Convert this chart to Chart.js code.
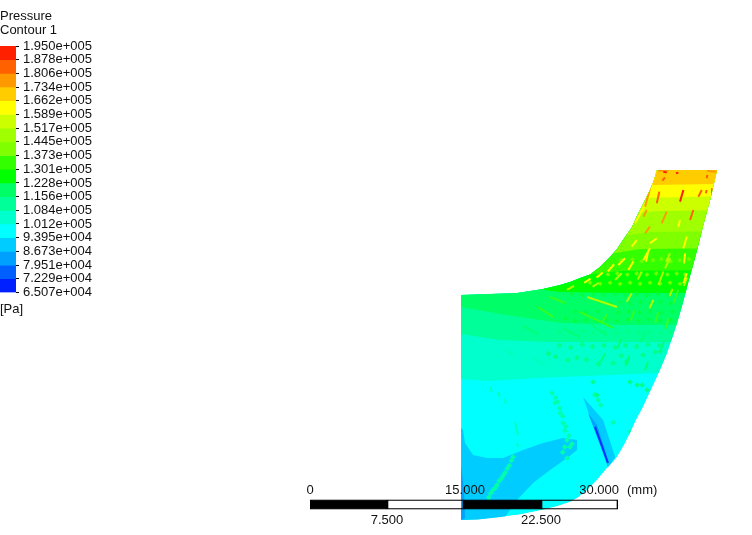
<!DOCTYPE html>
<html>
<head>
<meta charset="utf-8">
<script src="https://cdn.jsdelivr.net/npm/chart.js@4/dist/chart.umd.min.js"></script>
<style>
	html, body { margin: 0; background: #fff; overflow: hidden; }
	canvas { position: absolute; }
	#field { left: 0; top: 0; }
	#ruler { left: 0; top: 0; }
	#colorbar { left: -3px; top: 0; }
</style>
</head>
<body>
<canvas id="field" width="752" height="535"></canvas>
<canvas id="ruler" width="752" height="535"></canvas>
<canvas id="colorbar" width="113" height="326"></canvas>
<script>
// legend
const levels = [195000, 187800, 180600, 173400, 166200, 158900, 151700, 144500, 137300, 130100, 122800, 115600, 108400, 101200, 93950, 86730, 79510, 72290, 65070]
const levelLabels = ['1.950e+005', '1.878e+005', '1.806e+005', '1.734e+005', '1.662e+005', '1.589e+005', '1.517e+005', '1.445e+005', '1.373e+005', '1.301e+005', '1.228e+005', '1.156e+005', '1.084e+005', '1.012e+005', '9.395e+004', '8.673e+004', '7.951e+004', '7.229e+004', '6.507e+004']
const bandColors = ['#ff2000', '#ff6000', '#ff9900', '#ffcc00', '#ffff00', '#ccff00', '#a0ff00', '#80ff00', '#33ff00', '#00ff00', '#00ff66', '#00ff99', '#00ffcc', '#00ffff', '#00ccff', '#00a0ff', '#0060ff', '#0020ff']

// geometry, mm from the bottom of the inlet edge
const passage = [[0, 0], [1.66, 0.05], [3.8, 0.29], [5.74, 0.54], [7.89, 0.97], [9.25, 1.31], [10.61, 1.75], [11.39, 2.19], [12.07, 2.73], [12.66, 3.31], [13.24, 3.89], [13.73, 4.48], [14.22, 5.06], [14.7, 5.55], [15.19, 6.13], [15.87, 7.3], [16.46, 8.47], [17.04, 9.74], [17.72, 11], [18.4, 12.46], [19.08, 13.92], [19.57, 15.09], [20.06, 16.26], [20.55, 17.72], [21.03, 19.18], [21.62, 21.23], [22.1, 23.08], [22.59, 24.83], [22.98, 26.29], [23.56, 28.63], [24.25, 31.16], [24.93, 34.08], [19.08, 34.08], [18.79, 33.11], [18.4, 32.13], [17.92, 31.16], [17.43, 30.18], [17.04, 29.41], [16.65, 28.53], [15.77, 27.26], [15.19, 26.39], [14.51, 25.61], [13.53, 24.64], [12.56, 23.91], [11.59, 23.56], [10.61, 23.17], [9.64, 22.88], [7.98, 22.49], [6.72, 22.3], [5.45, 22.1], [2.82, 22], [0, 21.91]]

// contour lines, everything above a line takes its colour
const contour13 = [[0, 13.73], [2.63, 13.53], [7.5, 13.83], [12.07, 14.02], [19.38, 14.31], [26, 14.41]]
const contour12 = [[0, 18.11], [3.8, 17.53], [8.67, 17.33], [13.53, 17.33], [26, 17.33]]
const contour11 = [[0, 20.74], [3.8, 20.06], [9.64, 19.18], [15.48, 18.99], [26, 18.99]]
const contour10 = [[6.72, 22.59], [9.64, 22.2], [15.48, 22.1], [26, 22.1]]
const contour9 = [[12.07, 23.86], [15.48, 24.25], [26, 24.34]]
const contour8 = [[14.51, 25.9], [17.43, 26.39], [26, 26.48]]
const contour7 = [[15.48, 27.65], [18.4, 28.04], [26, 28.14]]
const contour6 = [[16.46, 29.89], [19.38, 30.09], [26, 30.18]]
const contour5 = [[17.43, 31.35], [26, 31.55]]
const contour4 = [[18.4, 32.62], [26, 32.72]]

// low pressure pockets
const inletBlob = [[0, 8.96], [0.19, 8.76], [0.39, 7.5], [1.17, 6.33], [2.53, 6.04], [4.09, 6.04], [6.04, 6.82], [7.98, 7.5], [9.93, 7.98], [11.3, 7.79], [11.3, 6.82], [10.32, 6.04], [8.67, 4.87], [7.01, 3.6], [5.45, 1.95], [4.28, 0.29], [3.8, -0.19], [0, -0.19]]
const inletStrip = [[0, 5.36], [0.29, 2.92], [0.39, 0.19], [0, 0]]
const bladeWake = [[11.88, 11.98], [13.83, 9.74], [15, 6.13], [14.31, 5.06], [13.73, 6.82], [12.76, 9.45]]
const bladeWakeInner = [[12.37, 10.42], [13.24, 9.25], [14.02, 6.82], [14.31, 5.16], [13.83, 6.52]]
const bladeCore = [[13.05, 9.06, 14.31, 5.55]]

// streaks on the blade surfaces [x0, y0, x1, y1]
const redStreaks = [[21.65, 32.13, 21.32, 31], [19.7, 33.91, 20.03, 33.82], [20.93, 33.76, 21.16, 33.82]]
const orangeStreaks = [[19.31, 31.97, 19.06, 30.84], [23.44, 32.13, 23.11, 31.48], [23.92, 32.13, 23.83, 31.81], [24.51, 32.3, 24.44, 32.06], [22.62, 30.18, 22.3, 29.21], [23.98, 33.59, 23.92, 33.27], [19.86, 33.37, 19.6, 33.04]]
const amberStreaks = [[18.57, 32.94, 17.92, 30.51], [20.03, 30.02, 19.54, 28.89], [18.08, 30.18, 17.75, 29.53], [23.92, 34.01, 24.9, 33.9], [19.21, 34.01, 20.19, 34.01], [18.4, 28.56, 17.92, 27.92]]
const yellowStreaks = [[21.32, 29.21, 21.16, 28.56], [17.92, 30.67, 16.94, 28.89], [17.11, 27.26, 16.62, 26.61], [21.98, 27.59, 21.65, 26.46], [19.06, 27.43, 18.4, 26.94], [18.4, 26.46, 17.75, 25.32], [15.97, 25.48, 15.32, 24.83], [21.98, 24.02, 21.65, 23.05], [16.78, 25.16, 16.29, 24.34], [18.24, 26.29, 18.01, 25.15], [21.81, 25.97, 21.71, 24.99], [14.9, 24.9, 14.3, 24.2], [13.8, 24.1, 13.2, 23.6], [12.6, 23.5, 12, 23.1]]
const limeStreaks = [[20.35, 25.48, 19.86, 24.51], [19.7, 24.18, 19.21, 22.88], [20.35, 25.97, 19.96, 25.15], [15.65, 24.02, 15, 23.37], [16.62, 22.07, 16.13, 21.26], [18.72, 21.42, 18.34, 20.61], [12.27, 21.71, 15.19, 20.74], [17.6, 24.2, 17.2, 23.4], [13.4, 23.1, 12.8, 22.7], [22, 23.6, 21.7, 22.8], [11, 22.8, 10.3, 22.4], [20.6, 22.5, 20.3, 21.8]]
const greenStreaks = [[21.16, 22.4, 20.68, 21.1], [8.67, 21.71, 10.13, 21.13], [11.59, 20.25, 14.8, 18.7], [7.5, 20.74, 8.96, 19.77], [19.2, 20.2, 18.9, 19.2], [16.9, 20.4, 16.5, 19.4], [20.2, 19.6, 19.9, 18.6], [14.2, 20, 13.7, 19.2]]
const mintStreaks = [[10, 18.6, 11.6, 17.8], [12.7, 19, 14.2, 18], [6, 18.9, 7.5, 18.1], [15.6, 17.6, 15.2, 16.7], [17.9, 18.4, 17.5, 17.3], [19.8, 17.5, 19.4, 16.4], [16.4, 16, 16, 15], [14, 16.2, 13.6, 15.4], [18.2, 15.4, 17.9, 14.6]]
const paleStreaks = [[2.82, 12.95, 3.02, 12.46], [3.6, 12.46, 3.8, 11.98], [4.19, 11.78, 4.38, 11.3], [5.26, 9.54, 5.55, 8.28], [5.45, 7.5, 5.55, 7.11], [4.2, 16.6, 5.2, 16], [7, 15.8, 8.2, 15]]

// small specks
const limeSpecks = [[15.6, 25.3], [16.7, 25.4], [17.6, 25.2], [18.7, 25.3], [19.5, 25.4], [20.4, 25.2], [21.3, 25.3], [22.2, 25.4], [14.3, 23.9], [15.2, 24], [16.2, 23.9], [17.1, 24], [18.1, 23.9], [19, 24], [20.1, 23.9], [21, 24], [21.8, 23.9], [12.56, 23.1], [13.53, 23], [14.51, 23.1], [15.48, 23], [16.46, 23.1], [17.43, 23], [18.4, 23.1], [19.38, 23], [20.35, 23.1], [21.32, 23]]
const greenSpecks = [[10.8, 22], [11.8, 21.9], [12.9, 22], [13.9, 21.9], [15, 22], [16, 21.9], [17.1, 22], [18.1, 21.9], [19.2, 22], [20.2, 21.9], [21.1, 22], [13.5, 21.2], [14.5, 21.1], [15.5, 21.2], [16.4, 21.1], [17.5, 21.2], [18.5, 21.1], [19.4, 21.2], [20.4, 21.1], [11.1, 20.3], [12.1, 20.2], [13.3, 20.3], [15.3, 20.2], [16.3, 20.3], [17.4, 20.2], [18.4, 20.3], [19.5, 20.2], [20.6, 20.3], [10.2, 19.6], [11.1, 19.4], [12.2, 19.5], [13.2, 19.4], [14.2, 19.5], [15.2, 19.4], [16.2, 19.5], [17.3, 19.4], [18.3, 19.5], [19.4, 19.4], [20.4, 19.5]]
const mintSpecks = [[9.6, 18.3], [10.7, 18.2], [11.8, 18.4], [12.9, 18.2], [14, 18.3], [15.1, 18.2], [16.2, 18.4], [17.3, 18.2], [18.4, 18.3], [19.5, 18.2], [20.4, 18.3], [9.6, 17], [10.7, 16.8], [11.8, 17.1], [12.8, 16.9], [13.9, 17], [15, 16.8], [16, 17], [17.1, 16.9], [18.2, 17.1], [19.3, 17], [10.42, 15.58], [11.3, 15.8], [14.8, 15.29], [17.72, 16.07], [18.89, 16.36], [19.4, 16.4], [12.2, 15.6], [13.4, 15.2], [15.6, 16], [16.1, 15.4], [9.2, 15.9], [8.5, 16.2], [12.85, 13.44], [13.24, 12.17], [16.46, 13.44], [17.14, 13.14], [18.11, 12.66], [17.62, 13.14]]
const wakeSpecks = [[8.86, 12.37], [9.15, 11.39], [9.64, 10.42], [9.93, 9.45], [10.32, 7.79], [10.61, 7.11], [10.32, 6.04], [9.9, 6.6], [9.2, 11.9], [9.6, 10.9], [10.1, 8.7], [9.4, 11.5], [9.9, 10.1], [10.2, 9.1], [10.5, 8.2], [10.8, 7.4], [10.1, 7.1], [3.12, 2.92], [3.5, 3.4], [3.9, 4], [4.28, 4.6], [4.7, 5.3], [5.06, 6.13], [2.7, 2.2], [3.3, 3.1], [3.7, 3.8], [4.1, 4.3], [4.5, 5], [4.9, 5.8], [2.9, 2.6], [13.34, 11.68], [13, 12.2], [13.6, 11.2], [14.8, 9.5], [16.46, 8.6]]

// scale bar
const rulerSegments = [7.5, 7.5, 7.5, 7.5]
const rulerFills = ['#000000', 'transparent', '#000000', 'transparent']
const rulerTop = [{ value: 0, text: '0', align: 'center', dx: 0 }, { value: 15, text: '15.000', align: 'center', dx: 1 }, { value: 30, text: '30.000', align: 'right', dx: 1 }]
const rulerBottom = [{ value: 7.5, text: '7.500' }, { value: 22.5, text: '22.500' }]

const textFont = { family: '"Liberation Sans", Arial, sans-serif', size: 13 }
Chart.defaults.font.family = textFont.family
Chart.defaults.font.size = textFont.size
Chart.defaults.color = '#111111'
Chart.defaults.animation = false
Chart.defaults.responsive = false

const toPoints = list => list.map(p => ({ x: p[0], y: p[1] }))
const toSegments = list => list.flatMap(s => [{ x: s[0], y: s[1] }, { x: s[2], y: s[3] }, { x: null, y: null }])

const area = (data, color, fill) => ({ data: toPoints(data), showLine: true, fill, backgroundColor: color, borderWidth: 0, pointRadius: 0 })
const streaks = (data, color, width) => ({ data: toSegments(data), showLine: true, fill: false, borderColor: color, borderWidth: width, pointRadius: 0, spanGaps: false })
const specks = (data, color, radius) => ({ data: toPoints(data), showLine: false, pointStyle: 'rectRot', pointRadius: radius, backgroundColor: color, borderWidth: 0 })

const layers = [
	area(passage, bandColors[13], 'shape'),
	area(contour13, bandColors[12], 'end'),
	area(contour12, bandColors[11], 'end'),
	area(contour11, bandColors[10], 'end'),
	area(contour10, bandColors[9], 'end'),
	area(contour9, bandColors[8], 'end'),
	area(contour8, bandColors[7], 'end'),
	area(contour7, bandColors[6], 'end'),
	area(contour6, bandColors[5], 'end'),
	area(contour5, bandColors[4], 'end'),
	area(contour4, bandColors[3], 'end'),
	area(inletBlob, bandColors[14], 'shape'),
	area(inletStrip, bandColors[15], 'shape'),
	area(bladeWake, bandColors[14], 'shape'),
	area(bladeWakeInner, bandColors[15], 'shape'),
	streaks(bladeCore, '#0030ff', 2),
	streaks(paleStreaks, '#00ffbb', 2),
	specks(wakeSpecks, '#00ffaa', 2.8),
	specks(mintSpecks, '#00ff88', 2.8),
	streaks(mintStreaks, '#00ff77', 2),
	specks(greenSpecks, '#00ff44', 2.6),
	specks(limeSpecks, '#70ff00', 2.4),
	streaks(greenStreaks, '#33ff22', 2),
	streaks(limeStreaks, '#b0ff00', 2),
	streaks(yellowStreaks, '#ffff00', 2),
	streaks(amberStreaks, '#ff9900', 2),
	streaks(orangeStreaks, '#ff6000', 2),
	streaks(redStreaks, '#ff2000', 2),
]
// the lowest order is painted last
layers.forEach((layer, i) => { layer.order = layers.length - i })

const clipToPassage = {
	id: 'clipToPassage',
	beforeDatasetsDraw(chart) {
		const { ctx, scales } = chart
		ctx.save()
		ctx.beginPath()
		passage.forEach(p => ctx.lineTo(scales.x.getPixelForValue(p[0]), scales.y.getPixelForValue(p[1])))
		ctx.closePath()
		ctx.clip()
	},
	afterDatasetsDraw(chart) {
		chart.ctx.restore()
	},
}

new Chart(document.getElementById('field'), {
	type: 'scatter',
	data: { datasets: layers },
	options: {
		layout: { autoPadding: false },
		plugins: { legend: { display: false }, tooltip: { enabled: false } },
		scales: {
			x: { type: 'linear', display: false, min: -44.89, max: 28.33 },
			y: { type: 'linear', display: false, min: -1.46, max: 50.63 },
		},
	},
	plugins: [clipToPassage],
})

const rulerText = {
	id: 'rulerText',
	afterDraw(chart) {
		const { ctx, chartArea } = chart
		const x = chart.scales.x
		ctx.save()
		ctx.font = '13px ' + textFont.family
		ctx.fillStyle = '#111111'
		ctx.textBaseline = 'middle'
		rulerTop.forEach(t => {
			ctx.textAlign = t.align
			ctx.fillText(t.text, x.getPixelForValue(t.value) + t.dx, chartArea.top - 9)
		})
		ctx.textAlign = 'left'
		ctx.fillText('(mm)', x.getPixelForValue(30) + 9, chartArea.top - 9)
		ctx.textAlign = 'center'
		rulerBottom.forEach(t => ctx.fillText(t.text, x.getPixelForValue(t.value), chartArea.bottom + 11))
		ctx.restore()
	},
}

new Chart(document.getElementById('ruler'), {
	type: 'bar',
	data: {
		labels: ['length'],
		datasets: rulerSegments.map((v, i) => ({
			data: [v],
			backgroundColor: rulerFills[i],
			borderColor: '#000000',
			borderWidth: 1,
			borderSkipped: false,
			barPercentage: 1,
			categoryPercentage: 1,
		})),
	},
	options: {
		indexAxis: 'y',
		layout: { autoPadding: false, padding: { left: 310, right: 134, top: 499.5, bottom: 25.5 } },
		plugins: { legend: { display: false }, tooltip: { enabled: false } },
		scales: {
			x: { stacked: true, display: false, min: 0, max: 30 },
			y: { stacked: true, display: false },
		},
	},
	plugins: [rulerText],
})

new Chart(document.getElementById('colorbar'), {
	type: 'bar',
	data: {
		labels: ['Pressure'],
		datasets: levels.slice(1).map((level, i) => ({
			data: [[level, levels[i]]],
			backgroundColor: bandColors[i],
			borderWidth: 0,
			barPercentage: 1,
			categoryPercentage: 1,
			grouped: false,
		})),
	},
	options: {
		layout: { padding: { left: 3 } },
		plugins: {
			legend: { display: false },
			tooltip: { enabled: false },
			title: {
				display: true,
				text: ['Pressure', 'Contour 1'],
				align: 'start',
				color: '#111111',
				font: { size: 13, weight: 'normal', lineHeight: 1.04 },
				padding: { top: 10, bottom: 9 },
			},
			subtitle: {
				display: true,
				text: '[Pa]',
				position: 'bottom',
				align: 'start',
				color: '#111111',
				font: { size: 13, weight: 'normal', lineHeight: 1.04 },
				padding: { top: 10, bottom: 10 },
			},
		},
		scales: {
			x: { display: false },
			y: {
				position: 'right',
				min: 65070,
				max: 195000,
				border: { display: false },
				grid: { drawOnChartArea: false, color: '#000000', tickLength: 3 },
				afterBuildTicks: scale => { scale.ticks = levels.map(value => ({ value })) },
				afterFit: scale => { scale.width = 94 },
				ticks: {
					autoSkip: false,
					padding: 4,
					callback: (value, i) => levelLabels[i],
				},
			},
		},
	},
})
</script>
</body>
</html>
